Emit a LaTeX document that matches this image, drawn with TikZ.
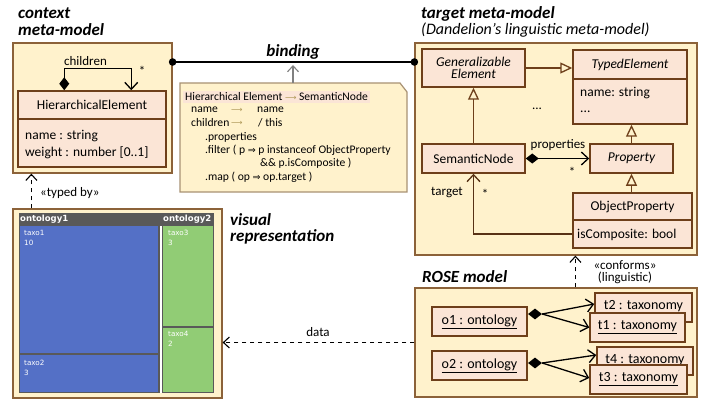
\documentclass[tikz,border=0pt]{standalone}
\usepackage{fontspec}
\setmainfont{Carlito}
\newfontfamily\symfont{DejaVu Sans}
\newfontfamily\tmfont{DejaVu Sans}
\usetikzlibrary{arrows.meta,shapes.geometric,calc}
\definecolor{pkgfill}{HTML}{FFF2CC}
\definecolor{pkgline}{HTML}{8C6239}
\definecolor{clsfill}{HTML}{FBE5D6}
\definecolor{clsline}{HTML}{6E3F1A}
\definecolor{noteline}{HTML}{A89274}
\definecolor{maparrow}{HTML}{B09A5A}
\definecolor{tmgrey}{HTML}{595959}
\definecolor{tmblue}{HTML}{5470C6}
\definecolor{tmgreen}{HTML}{91CC75}
\newcommand\sz[1]{\fontsize{#1}{#1}\selectfont}
% box given by its left, top, right and bottom edges
\newcommand\placebox[7]{\node[#2, minimum width={#5-#3}, minimum height={#6-#4}] (#1) at ({(#3+#5)/2},{(#4+#6)/2}) {#7};}
\tikzset{
  pkg/.style={draw=pkgline, fill=pkgfill, line width=1.2pt, inner sep=0},
  cls/.style={draw=clsline, fill=clsfill, line width=1.5pt, inner sep=0, font=\sz{13.5}},
  obj/.style={cls, font=\sz{14}},
  title/.style={font=\sz{17}\bfseries\itshape, inner sep=0, anchor=west},
  lbl/.style={font=\sz{13}, inner sep=0},
  attr/.style={font=\sz{13.5}, inner sep=0, anchor=west},
  notetxt/.style={font=\sz{11.6}, inner sep=0, anchor=west},
  tmhead/.style={font=\tmfont\bfseries\sz{8.5}, text=white, inner sep=0, anchor=west},
  tmlbl/.style={font=\tmfont\sz{7.2}, text=white, inner sep=0, anchor=west},
  openv/.tip={Straight Barb[length=7pt, width=13pt, line width=1.3pt]},
  gen/.style={draw=clsline, line width=1.3pt, -{Triangle[open, length=12pt, width=11pt, line width=1.3pt]}},
  assoc/.style={line width=1.3pt, -openv},
  comp/.style={line width=1.3pt, {Diamond[length=13pt, width=10pt]}-openv},
  dep/.style={line width=1.1pt, dash pattern=on 4.5pt off 3.5pt, -{Straight Barb[length=6pt, width=11pt, line width=1.1pt]}},
  blackdiamond/.style={diamond, fill=black, minimum width=14pt, minimum height=11pt, inner sep=0},
}
\begin{document}
\begin{tikzpicture}[x=1pt, y=-1pt]
\useasboundingbox (0,0) rectangle (712,401);

% ---------- titles ----------
\node[title] (tctx1) at (18,13) {context};
\node[title] (tctx2) at (18,30) {meta-model};
\node[title] (ttgt1) at (421,14) {target meta-model};
\node[title, font=\sz{16}\itshape] (ttgt2) at (421,30) {(Dandelion’s linguistic meta-model)};
\node[title, anchor=center] (tbind) at (293,52) {binding};
\node[title] (tvis1) at (230,220) {visual};
\node[title] (tvis2) at (230,237) {representation};
\node[title] (trose) at (422,277) {ROSE model};

% ---------- context meta-model ----------
\placebox{ctx}{pkg}{13}{43}{172}{173}{}
\placebox{heh}{cls}{18}{91}{166}{119}{HierarchicalElement}
\placebox{heb}{cls}{18}{119}{166}{167}{}
\node[attr] (hea1) at (25,136) {name : string};
\node[attr] (hea2) at (25,153) {weight : number [0..1]};
\draw[comp] ([xshift=47pt]heh.north west) -- ([xshift=47pt, yshift=22pt]heh.north west) -| ([xshift=114pt]heh.north west);
\node[lbl] (lchildren) at (85.5,61) {children};
\node[lbl] (lchildstar) at (142,71) {*};

% ---------- target meta-model ----------
\placebox{tgt}{pkg}{415}{43}{697}{255}{}
\placebox{ge}{cls, align=center, font=\sz{13.5}\itshape}{422}{49}{525}{87}{Generalizable\\[-1pt]Element}
\placebox{teh}{cls, font=\sz{13.5}\itshape}{573}{50}{687}{79}{TypedElement}
\placebox{teb}{cls}{573}{79}{687}{124}{}
\node[attr] (tea1) at (580,93) {name: string};
\node[attr] (tea2) at (580,112) {...};
\node[lbl] (tdots) at (537,109) {...};
\placebox{sn}{cls}{422}{144}{525}{173}{SemanticNode}
\placebox{prop}{cls, font=\sz{13.5}\itshape}{590}{144}{673}{173}{Property}
\placebox{oph}{cls}{573}{193}{692}{220}{ObjectProperty}
\placebox{opb}{cls}{573}{220}{692}{248}{}
\node[attr] (opa1) at (577,235) {isComposite: bool};

\draw[gen] (ge.east) -- (ge.east -| teh.west);
\draw[gen] (sn.north) -- (ge.south);
\draw[gen] (prop.north) -- (prop.north |- teb.south);
\draw[gen] (prop.south |- oph.north) -- (prop.south);
\draw[comp] (sn.east) -- (sn.east -| prop.west);
\node[lbl] (lprops) at (558,145) {properties};
\node[lbl] (lpropstar) at (572,172) {*};
\draw[assoc, draw=clsline!80!black] (opb.west) -| (sn.south);
\node[lbl] (ltarget) at (447,193) {target};
\node[lbl] (ltgtstar) at (485,194) {*};

% ---------- binding ----------
\coordinate (by) at (0,62);
\draw[line width=1.3pt] (ctx.east |- by) -- (tgt.west |- by);
\fill (ctx.east |- by) circle (3.8);
\fill (tgt.west |- by) circle (3.8);
\filldraw[draw=noteline, fill=pkgfill, line width=1.2pt] (180,83) -- (400,83) -- (407,92) -- (407,192) -- (180,192) -- cycle;
\coordinate (notetop) at (293,83);
\draw[gray, line width=1.1pt, -{Straight Barb[length=6pt, width=11pt, line width=1.1pt]}] (notetop) -- ([yshift=-3pt]notetop |- by);
\node[notetxt, fill=clsfill, inner xsep=2pt, inner ysep=1.5pt] (nl1) at (183,97) {Hierarchical Element {\color{maparrow}\symfont\sz{8}⟶} SemanticNode};
\node[notetxt] (nl2a) at (191,110) {name};
\node[notetxt] (nl2b) at (231,110) {\color{maparrow}\symfont\sz{8}⟶};
\node[notetxt] (nl2c) at (257,110) {name};
\node[notetxt] (nl3a) at (191,123) {children};
\node[notetxt] (nl3b) at (231,123) {\color{maparrow}\symfont\sz{8}⟶};
\node[notetxt] (nl3c) at (258,123) {/ this};
\node[notetxt] (nl4) at (205,137) {.properties};
\node[notetxt] (nl5) at (205,150) {.filter ( p {\symfont\sz{9.5}⇒} p instanceof ObjectProperty};
\node[notetxt] (nl6) at (260,163) {\&\& p.isComposite )};
\node[notetxt] (nl7) at (205,177) {.map ( op {\symfont\sz{9.5}⇒} op.target )};

% ---------- ROSE model ----------
\placebox{rose}{pkg}{415}{288}{697}{397}{}
\placebox{o1}{obj}{432}{307}{527}{336}{\underline{o1 : ontology}}
\placebox{t2}{obj}{595}{293}{692}{322}{\underline{t2 : taxonomy}}
\placebox{t1}{obj}{590}{313}{685}{342}{\underline{t1 : taxonomy}}
\placebox{o2}{obj}{432}{351}{527}{380}{\underline{o2 : ontology}}
\placebox{t4}{obj}{597}{347}{693}{375}{\underline{t4 : taxonomy}}
\placebox{t3}{obj}{590}{365}{687}{394}{\underline{t3 : taxonomy}}
\node[blackdiamond] (d1) at (535,314) {};
\node[blackdiamond] (d2) at (535,363) {};
\draw[assoc] (d1.east) -- ([yshift=3.5pt]t2.west);
\draw[assoc] (d1.east) -- (t1.west);
\draw[assoc] (d2.east) -- ([yshift=6pt]t4.west);
\draw[assoc] (d2.east) -- ([yshift=1.5pt]t3.west);
\draw[dep] ([xshift=161pt]rose.north west) -- ([xshift=161pt]tgt.south west);
\node[lbl] (lconf1) at (625,265) {«conforms»};
\node[lbl] (lconf2) at (625,278) {(linguistic)};

% ---------- visual representation ----------
\placebox{vis}{pkg}{13}{209}{222}{398}{}
\fill[tmgrey] (19,213) rectangle (214,393);
\fill[tmblue] (20,226) rectangle (158,353);
\fill[tmblue] (20,354.5) rectangle (158,392);
\fill[white] (159.5,226) rectangle (162,393);
\fill[tmgreen] (163,226) rectangle (213,326);
\fill[tmgreen] (163,327.5) rectangle (213,392);
\node[tmhead] (tmo1) at (20,219) {ontology1};
\node[tmhead] (tmo2) at (163,219) {ontology2};
\node[tmlbl] (tx1a) at (24,233) {taxo1};
\node[tmlbl] (tx1b) at (24,243) {10};
\node[tmlbl] (tx2a) at (24,363) {taxo2};
\node[tmlbl] (tx2b) at (24,373) {3};
\node[tmlbl] (tx3a) at (168,233) {taxo3};
\node[tmlbl] (tx3b) at (168,243) {3};
\node[tmlbl] (tx4a) at (168,334) {taxo4};
\node[tmlbl] (tx4b) at (168,344) {2};

% ---------- dependencies between the parts ----------
\draw[dep] ([xshift=19pt]vis.north west) -- ([xshift=19pt]ctx.south west);
\node[lbl, anchor=west] (ltyped) at (40,193) {«typed by»};
\draw[dep] (rose.west) -- (rose.west -| vis.east);
\node[lbl] (ldata) at (318,332) {data};
\end{tikzpicture}
\end{document}
